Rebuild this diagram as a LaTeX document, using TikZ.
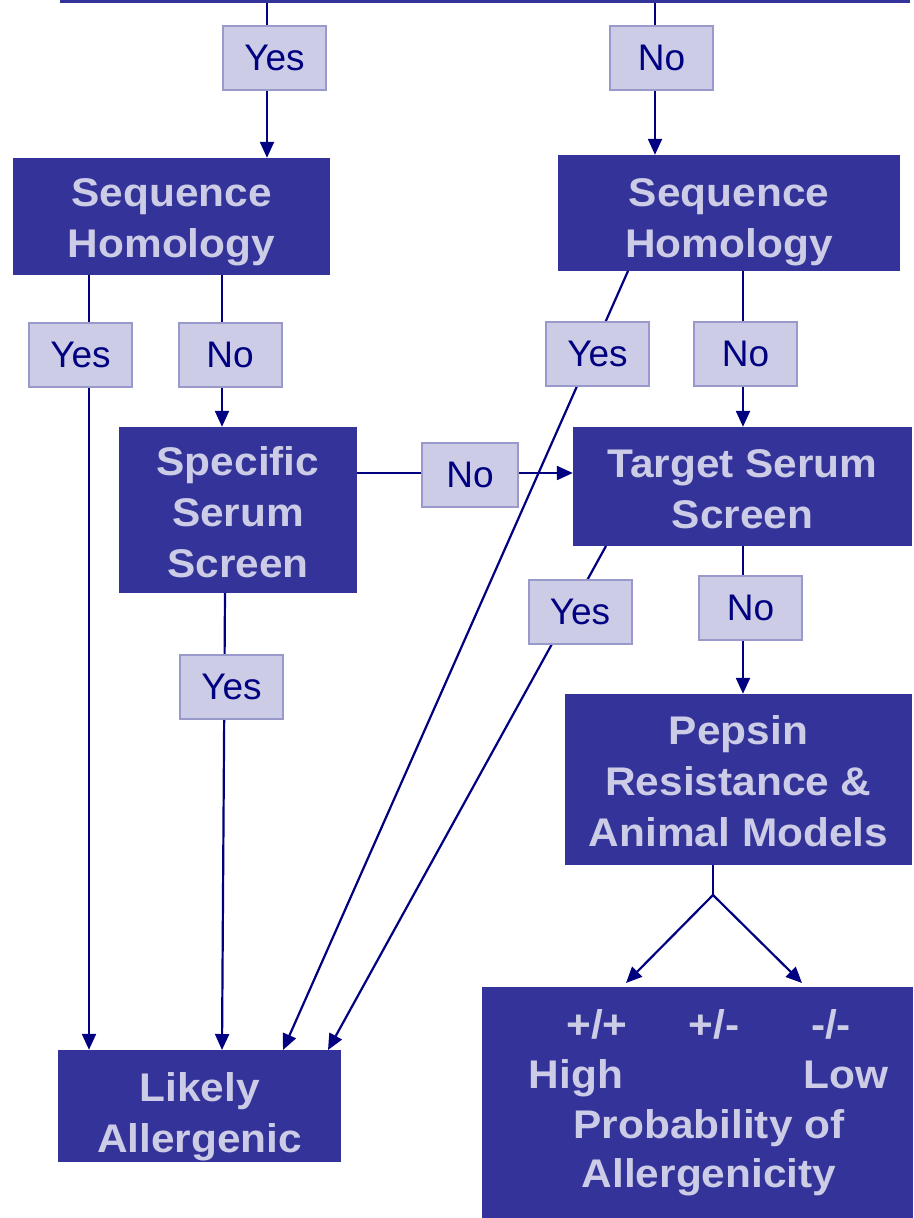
\documentclass[tikz,border=0pt]{standalone}
\usepackage{fontspec}
\setmainfont{Liberation Sans}
\newfontfamily\widef[FakeStretch=1.06]{Liberation Sans}
\usetikzlibrary{arrows.meta}
\definecolor{boxblue}{HTML}{333399}
\definecolor{lav}{HTML}{CCCCE6}
\definecolor{lavedge}{HTML}{9999CC}
\definecolor{navy}{HTML}{000080}
\newcommand{\bt}[2]{\raisebox{-#1pt}[\height][\depth]{\begin{tabular}{@{}c@{}}#2\end{tabular}}}
\begin{document}
\begin{tikzpicture}[x=1pt,y=-1pt,
  bigbox/.style={fill=boxblue,draw=none,text=lav,font=\widef\fontsize{40}{51}\selectfont\bfseries,align=center,inner sep=0pt},
  lab/.style={fill=lav,draw=lavedge,line width=2pt,text=navy,font=\fontsize{37}{40}\selectfont,minimum width=103pt,minimum height=64pt,inner sep=0pt},
  wtext/.style={text=lav,font=\widef\fontsize{40}{48}\selectfont\bfseries,inner sep=0pt,anchor=base},
  conn/.style={draw=navy,line width=2.2pt},
  arr/.style={conn,-{Triangle[length=16pt,width=14pt]}}]
\useasboundingbox (0,0) rectangle (913,1218);
% big boxes
\node[bigbox,minimum width=850pt,minimum height=40pt,anchor=south] (top) at (485,3) {};
\node[bigbox,minimum width=317pt,minimum height=117pt] (shl) at (171.5,216.5) {\bt{5}{Sequence\\Homology}};
\node[bigbox,minimum width=342pt,minimum height=116pt] (shr) at (729,213) {\bt{9}{Sequence\\Homology}};
\node[bigbox,minimum width=238pt,minimum height=166pt] (sss) at (238,510) {\bt{6}{Specific\\Serum\\Screen}};
\node[bigbox,minimum width=339pt,minimum height=119pt] (tss) at (742.5,486.5) {\bt{6}{Target Serum\\Screen}};
\node[bigbox,minimum width=347pt,minimum height=171pt] (pep) at (738.5,779.5) {\bt{6}{Pepsin\\Resistance \&\\Animal Models}};
\node[bigbox,minimum width=283pt,minimum height=112pt] (la) at (199.5,1106) {\bt{11}{Likely\\Allergenic}};
\node[bigbox,minimum width=431pt,minimum height=231pt] (prob) at (697.5,1102.5) {};
\node[wtext] (pp) at (597,1038) {+/+};
\node[wtext] (pm) at (714,1038) {+/-};
\node[wtext] (mm) at (831,1038) {-/-};
\node[wtext] (hi) at (576,1088) {High};
\node[wtext] (lo) at (846,1088) {Low};
\node[wtext] (pr) at (709,1138) {Probability of};
\node[wtext] (al) at (709,1187) {Allergenicity};
% connectors
\coordinate (c1) at (267,3);
\coordinate (c2) at (655,3);
\draw[arr] (c1) -- (shl.north -| c1);
\draw[arr] (c2) -- (shr.north -| c2);
\coordinate (s1) at (89,275);
\draw[arr] (s1) -- (la.north -| s1);
\coordinate (s2) at (222,275);
\draw[arr] (s2) -- (sss.north -| s2);
\coordinate (s3) at (357,473);
\draw[arr] (s3) -- (tss.west |- s3);
\coordinate (r1) at (628,271);
\coordinate (r1e) at (283,1050);
\draw[arr] (r1) -- (r1e);
\coordinate (r2) at (743,271);
\draw[arr] (r2) -- (tss.north -| r2);
\coordinate (t1) at (606,546);
\coordinate (t1e) at (328,1050);
\draw[arr] (t1) -- (t1e);
\coordinate (t2) at (743,546);
\draw[arr] (t2) -- (pep.north -| t2);
\coordinate (q1) at (225,593);
\coordinate (q1e) at (222,1050);
\draw[arr] (q1) -- (q1e);
\coordinate (p1) at (713,865);
\coordinate (fork) at (713,895);
\coordinate (fl) at (626,983);
\coordinate (fr) at (802,983);
\draw[conn] (p1) -- (fork);
\draw[arr] (fork) -- (fl);
\draw[arr] (fork) -- (fr);
% labels
\node[lab] (y1) at (274.5,58) {Yes};
\node[lab] (n1) at (661.5,58) {No};
\node[lab] (y2) at (80.5,354.5) {Yes};
\node[lab] (n2) at (230,354.5) {No};
\node[lab,minimum width=96pt] (n3) at (470,475) {No};
\node[lab] (y4) at (597.5,354) {Yes};
\node[lab] (n4) at (745.5,354) {No};
\node[lab] (y5) at (580,611.5) {Yes};
\node[lab] (n5) at (750.5,608) {No};
\node[lab] (y6) at (231.5,686.5) {Yes};
\end{tikzpicture}
\end{document}
